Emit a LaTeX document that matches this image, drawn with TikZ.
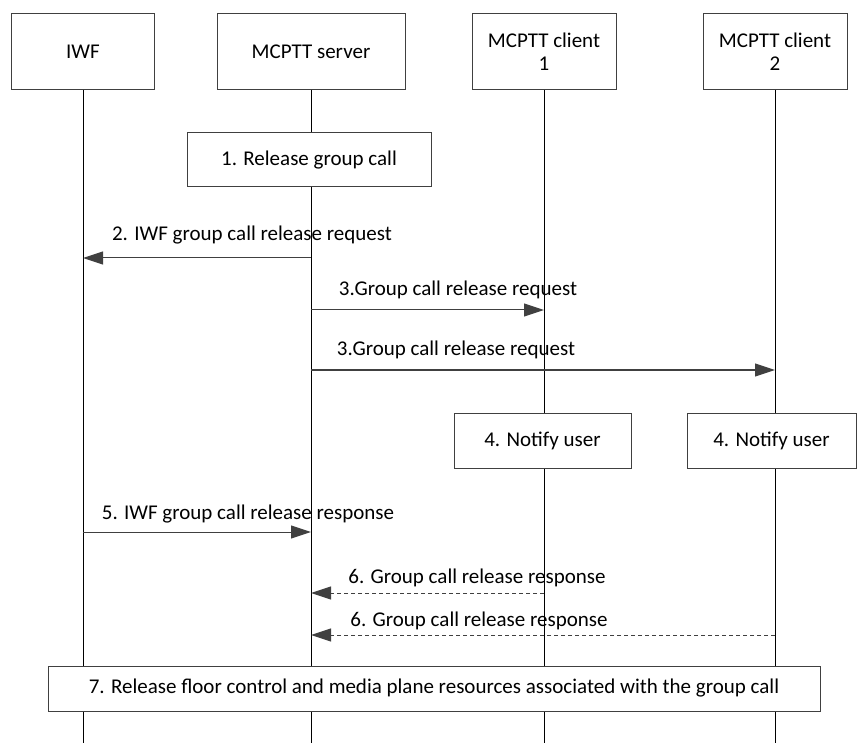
\documentclass[tikz,border=0pt]{standalone}
\usepackage{fontspec}
\setmainfont{Carlito}
\usetikzlibrary{arrows.meta}

\definecolor{linegray}{RGB}{64,64,64}
\tikzset{
  box/.style={draw=linegray, fill=white, line width=1pt, inner sep=0pt,
    align=center, font=\fontsize{21}{23}\selectfont},
  life/.style={line width=0.8pt},
  msg/.style={draw=linegray, line width=1pt,
    -{Triangle[length=20pt,width=13pt,color=linegray]}},
  resp/.style={msg, dash pattern=on 4pt off 3pt},
  lbl/.style={inner sep=0pt, font=\fontsize{21}{23}\selectfont},
}

\begin{document}
\begin{tikzpicture}[x=1pt,y=-1pt]
    \useasboundingbox (0,0) rectangle (857,743);
    % entities
    \node[box, minimum width=143pt, minimum height=76pt] (iwf) at (83,52) {IWF};
    \node[box, minimum width=188pt, minimum height=76pt] (srv) at (311,52) {MCPTT server};
    \node[box, minimum width=144pt, minimum height=76pt] (cl1) at (544,52) {MCPTT client\\1};
    \node[box, minimum width=144pt, minimum height=76pt] (cl2) at (775,52) {MCPTT client\\2};
    \foreach \n in {iwf,srv,cl1,cl2}
        \draw[life] (\n.south) -- (\n.south |- 0,743);
    % local steps
    \node[box, minimum width=244pt, minimum height=54pt] (rel) at (309,160) {1. Release group call};
    \node[box, minimum width=177pt, minimum height=55pt] (ntf1) at (542.5,440.5) {4. Notify user};
    \node[box, minimum width=169pt, minimum height=55pt] (ntf2) at (771.5,440.5) {4. Notify user};
    % messages
    \draw[msg] (srv |- 0,258) -- (iwf |- 0,258);
    \node[lbl] (l2) at (252,235) {2. IWF group call release request};
    \draw[msg] (srv |- 0,310) -- (cl1 |- 0,310);
    \node[lbl] (l3a) at (458,290) {3.Group call release request};
    \draw[msg] (srv |- 0,370) -- (cl2 |- 0,370);
    \node[lbl] (l3b) at (456,350) {3.Group call release request};
    \draw[msg] (iwf |- 0,532) -- (srv |- 0,532);
    \node[lbl] (l5) at (248,514) {5. IWF group call release response};
    \draw[resp] (cl1 |- 0,593) -- (srv |- 0,593);
    \node[lbl] (l6a) at (477,578) {6. Group call release response};
    \draw[resp] (cl2 |- 0,635) -- (srv |- 0,635);
    \node[lbl] (l6b) at (479,621) {6. Group call release response};
    % floor release
    \node[box, minimum width=772pt, minimum height=45pt] (flr) at (434,688.5)
        {7. Release floor control and media plane resources associated with the group call};
\end{tikzpicture}
\end{document}
